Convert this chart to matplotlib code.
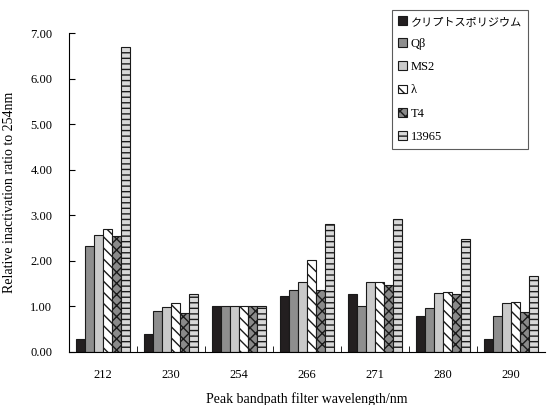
import numpy as np
import matplotlib.pyplot as plt
from matplotlib.ticker import FormatStrFormatter, FixedLocator

plt.rcParams['font.family'] = ['Liberation Serif', 'Noto Sans CJK JP']
plt.rcParams['hatch.linewidth'] = 1.0

# wavelengths of the band-pass filters
wavelengths = ['212', '230', '254', '266', '271', '280', '290']

# inactivation ratio relative to 254 nm, one list per organism
crypto = [0.28, 0.39, 1.00, 1.23, 1.27, 0.78, 0.28]
qbeta = [2.33, 0.90, 1.00, 1.37, 1.02, 0.96, 0.78]
ms2 = [2.56, 0.99, 1.00, 1.54, 1.54, 1.29, 1.08]
lam = [2.70, 1.08, 1.00, 2.01, 1.54, 1.31, 1.10]
t4 = [2.55, 0.85, 1.00, 1.36, 1.48, 1.27, 0.87]
s13965 = [6.70, 1.27, 1.00, 2.82, 2.91, 2.47, 1.66]

series = [
    ('クリプトスポリジウム', crypto, '#231f20', ''),
    ('Qβ', qbeta, '#8e8e8e', ''),
    ('MS2', ms2, '#cacaca', ''),
    ('λ', lam, 'white', '\\\\\\'),
    ('T4', t4, '#8a8a8a', 'xxx'),
    ('13965', s13965, '#d8d8d8', '---'),
]

fig = plt.figure(figsize=(5.47, 4.05), dpi=100)
ax = fig.add_axes([0.126, 0.131, 0.870, 0.787])

x = np.arange(len(wavelengths))
w = 0.8 / len(series)
for i, (name, vals, col, hatch) in enumerate(series):
    ax.bar(x - 0.4 + w * (i + 0.5), vals, w, color=col, edgecolor='#1a1a1a',
           linewidth=0.8, hatch=hatch, label=name)

ax.set_xlim(-0.5, len(wavelengths) - 0.5)
ax.set_ylim(0, 7)
ax.set_yticks(np.arange(0, 7.01, 1))
ax.yaxis.set_major_formatter(FormatStrFormatter('%.2f'))
ax.set_xticks(x)
ax.set_xticklabels(wavelengths)
ax.xaxis.set_minor_locator(FixedLocator(np.arange(0.5, len(wavelengths) - 1, 1)))
ax.tick_params(axis='x', which='major', length=0, pad=12, labelsize=9)
ax.tick_params(axis='x', which='minor', direction='in', length=4)
ax.tick_params(axis='y', direction='in', length=4, labelsize=9, pad=12)
for s in ['top', 'right']:
    ax.spines[s].set_visible(False)

ax.set_xlabel('Peak bandpath filter wavelength/nm', fontsize=10, labelpad=8)
ax.set_ylabel('Relative inactivation ratio to 254nm', fontsize=10, labelpad=10)

leg = ax.legend(loc='upper right', bbox_to_anchor=(0.966, 0.976),
                bbox_transform=fig.transFigure, fontsize=9, frameon=True,
                fancybox=False, edgecolor='#333333', handlelength=0.7,
                handleheight=0.7, handletextpad=0.3, labelspacing=0.9,
                borderpad=0.5, borderaxespad=0)
leg.get_frame().set_linewidth(0.8)
leg.get_texts()[0].set_fontsize(8)

fig.savefig('out.png', dpi=100)
